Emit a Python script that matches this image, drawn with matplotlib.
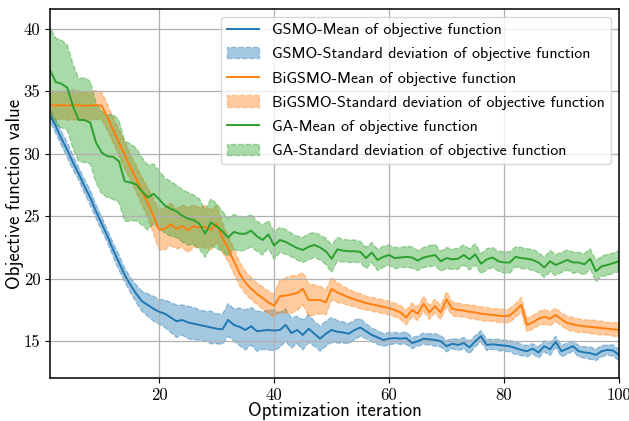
import numpy as np
import matplotlib.pyplot as plt

# %%
# values (iterations 1..100)
iterations = np.arange(1, 101)

gsmo_mean = [33.1, 32.2, 31.2, 30.3, 29.3, 28.4, 27.4, 26.5, 25.4, 24.4,
             23.4, 22.3, 21.3, 20.3, 19.5, 18.8, 18.2, 17.9, 17.6, 17.35,
             17.2, 16.9, 16.6, 16.7, 16.5, 16.4, 16.3, 16.2, 16.1, 16.0,
             15.95, 16.7, 16.3, 16.15, 15.9, 16.2, 15.8, 15.85, 15.9, 15.85,
             15.9, 16.3, 15.65, 15.9, 15.5, 16.0, 15.6, 15.2, 15.6, 15.9,
             15.75, 15.7, 15.6, 15.9, 16.1, 15.8, 15.5, 15.3, 15.1, 15.2,
             15.25, 15.2, 15.25, 14.85, 15.0, 15.2, 15.15, 15.1, 15.0, 14.6,
             14.8, 14.7, 14.85, 14.5, 15.0, 15.4, 14.7, 14.75, 14.7, 14.65,
             14.6, 14.45, 14.3, 14.2, 14.4, 14.1, 14.6, 14.35, 14.95, 14.2,
             14.4, 14.6, 14.2, 14.1, 14.05, 13.9, 14.2, 14.3, 14.25, 13.9]
gsmo_std = [0.5, 0.55, 0.55, 0.6, 0.55, 0.5, 0.55, 0.6, 0.55, 0.55,
            0.5, 0.55, 0.6, 0.55, 0.6, 0.7, 0.8, 0.9, 1.0, 1.0,
            1.1, 1.2, 1.3, 1.2, 1.3, 1.3, 1.2, 1.2, 1.3, 1.2,
            1.2, 1.3, 1.3, 1.5, 1.6, 1.5, 1.6, 1.5, 1.6, 1.6,
            1.4, 1.3, 1.2, 1.1, 1.2, 1.1, 1.0, 1.0, 1.0, 1.0,
            0.9, 0.85, 0.8, 0.8, 0.7, 0.6, 0.55, 0.55, 0.5, 0.5,
            0.45, 0.45, 0.5, 0.45, 0.4, 0.45, 0.45, 0.5, 0.45, 0.45,
            0.4, 0.45, 0.45, 0.5, 0.45, 0.45, 0.45, 0.4, 0.45, 0.45,
            0.45, 0.5, 0.45, 0.45, 0.4, 0.45, 0.45, 0.5, 0.45, 0.45,
            0.45, 0.4, 0.45, 0.45, 0.5, 0.45, 0.45, 0.4, 0.45, 0.45]

bigsmo_mean = [33.9, 33.85, 33.9, 33.85, 33.9, 33.88, 33.85, 33.85, 33.9, 33.85,
               32.9, 31.9, 30.9, 29.9, 28.9, 28.0, 27.0, 26.1, 25.0, 23.9,
               24.0, 24.35, 24.0, 24.2, 23.9, 24.2, 24.1, 24.15, 23.9, 24.4,
               23.3, 22.4, 21.4, 20.4, 19.7, 19.2, 18.8, 18.45, 18.1, 17.85,
               18.6, 18.65, 18.75, 18.85, 19.2, 18.3, 18.3, 18.3, 18.1, 19.2,
               18.9, 18.7, 18.5, 18.35, 18.2, 18.05, 17.95, 17.85, 17.75, 17.65,
               17.5, 17.3, 16.9, 17.5, 17.2, 18.0, 17.3, 17.8, 17.3, 18.35,
               17.6, 17.5, 17.45, 17.35, 17.3, 17.2, 17.15, 17.1, 17.05, 17.0,
               17.05, 17.45, 17.9, 16.3, 16.5, 16.8, 16.95, 16.8, 17.1, 16.75,
               16.45, 16.35, 16.25, 16.2, 16.15, 16.1, 16.05, 16.0, 15.95, 15.9]
bigsmo_std = [1.15, 1.15, 1.1, 1.15, 1.2, 1.15, 1.1, 1.15, 1.15, 1.1,
              1.05, 1.0, 1.05, 1.1, 1.0, 1.05, 1.1, 1.2, 1.4, 1.6,
              1.7, 1.7, 1.6, 1.7, 1.8, 1.7, 1.6, 1.7, 1.6, 1.5,
              1.2, 1.0, 1.0, 0.95, 0.9, 0.9, 0.85, 0.9, 0.9, 0.9,
              1.3, 1.4, 1.5, 1.4, 1.3, 1.3, 1.2, 1.1, 1.0, 0.9,
              0.8, 0.7, 0.65, 0.6, 0.6, 0.55, 0.55, 0.55, 0.55, 0.55,
              0.55, 0.55, 0.6, 0.55, 0.55, 0.6, 0.55, 0.55, 0.55, 0.6,
              0.55, 0.55, 0.5, 0.55, 0.55, 0.55, 0.55, 0.5, 0.55, 0.55,
              0.55, 0.55, 0.6, 0.55, 0.55, 0.55, 0.6, 0.55, 0.55, 0.5,
              0.55, 0.55, 0.55, 0.5, 0.55, 0.55, 0.55, 0.5, 0.55, 0.55]

ga_mean = [36.7, 35.75, 35.6, 35.3, 33.8, 32.7, 32.7, 32.5, 30.9, 30.1,
           29.8, 29.75, 29.4, 27.8, 27.7, 27.55, 27.0, 26.5, 26.8, 26.35,
           25.85, 25.6, 25.4, 25.05, 24.8, 24.7, 24.4, 23.6, 24.5, 24.2,
           23.8, 23.3, 23.75, 23.6, 23.6, 23.85, 23.4, 23.1, 23.55, 22.65,
           23.1, 22.95, 22.7, 22.45, 22.3, 22.55, 22.7, 22.5, 22.2, 21.6,
           22.35, 22.25, 22.2, 22.2, 22.15, 21.65, 22.1, 21.5, 21.75, 21.9,
           21.65, 21.7, 21.75, 21.7, 21.45, 21.7, 21.8, 21.9, 21.4, 21.65,
           21.55, 21.6, 21.9, 21.55, 21.95, 21.2, 21.55, 21.7, 21.4, 21.3,
           21.3, 21.75, 21.65, 21.6, 21.5, 21.3, 20.9, 21.4, 21.1, 21.3,
           21.5, 21.3, 21.3, 21.15, 21.6, 20.6, 21.0, 21.1, 21.25, 21.4]
ga_std = [3.4, 3.5, 3.5, 3.4, 3.4, 3.3, 3.4, 3.3, 3.2, 3.3,
          3.3, 3.4, 3.3, 3.2, 3.1, 2.9, 2.7, 2.6, 2.4, 2.3,
          2.2, 2.2, 2.1, 2.1, 2.1, 2.0, 2.0, 1.9, 1.9, 1.8,
          1.6, 1.5, 1.4, 1.4, 1.3, 1.3, 1.2, 1.2, 1.1, 1.1,
          1.0, 1.0, 0.95, 0.95, 1.0, 1.05, 1.0, 1.0, 1.05, 1.1,
          0.95, 0.9, 0.9, 0.9, 0.85, 0.85, 0.8, 0.85, 0.85, 0.8,
          0.85, 0.8, 0.85, 0.85, 0.8, 0.8, 0.85, 0.85, 0.8, 0.85,
          0.8, 0.85, 0.8, 0.85, 0.85, 0.8, 0.85, 0.8, 0.8, 0.85,
          0.85, 0.8, 0.85, 0.8, 0.85, 0.8, 0.8, 0.85, 0.85, 0.8,
          0.8, 0.85, 0.8, 0.85, 0.8, 0.85, 0.8, 0.85, 0.8, 0.85]

xticks = [20, 40, 60, 80, 100]
yticks = [15, 20, 25, 30, 35, 40]

# %%
plt.rcParams['font.family'] = 'cmss10'
plt.rcParams['axes.formatter.use_mathtext'] = True

fig, ax = plt.subplots(figsize=(6.29, 4.21), dpi=100)
fig.subplots_adjust(left=0.0795, right=0.984, top=0.979, bottom=0.102)

series = [('GSMO', gsmo_mean, gsmo_std, 'tab:blue'),
          ('BiGSMO', bigsmo_mean, bigsmo_std, 'tab:orange'),
          ('GA', ga_mean, ga_std, 'tab:green')]

for name, m, s, c in series:
    m = np.array(m)
    s = np.array(s)
    ax.plot(iterations, m, color=c, linewidth=1.4, label=name + '-Mean of objective function')
    ax.fill_between(iterations, m - s, m + s, color=c, alpha=0.4, linestyle='--',
                    label=name + '-Standard deviation of objective function')

ax.set_xlim(1, 100)
ax.set_ylim(12.05, 41.6)
ax.set_xticks(xticks)
ax.set_yticks(yticks)
ax.set_xticklabels([str(t) for t in xticks], fontsize=12, family='cmr10')
ax.set_yticklabels([str(t) for t in yticks], fontsize=12, family='cmr10')
ax.tick_params(axis='x', pad=3.5)
ax.grid(True, color='#b0b0b0', linewidth=0.9)
for sp in ax.spines.values():
    sp.set_linewidth(1.1)

ax.set_xlabel('Optimization iteration', fontsize=13.5)
ax.set_ylabel('Objective function value', fontsize=13.5)
ax.xaxis.set_label_coords(0.5, -0.064)
ax.yaxis.set_label_coords(-0.046, 0.5)
ax.legend(loc='upper right', fontsize=11.5, labelspacing=0.62)

fig.savefig('out.png', dpi=100)
